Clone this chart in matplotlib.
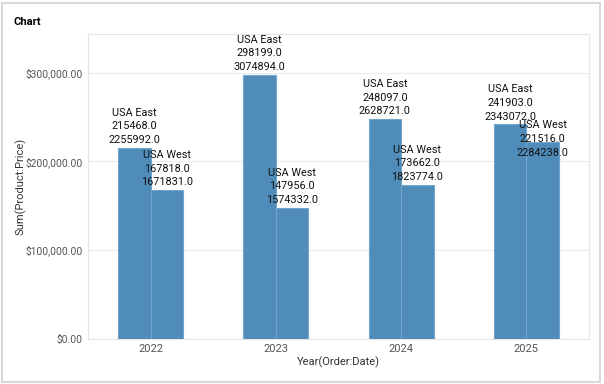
import matplotlib
matplotlib.use("Agg")
import matplotlib.pyplot as plt
import numpy as np
from matplotlib.patches import Rectangle
from matplotlib.ticker import FuncFormatter

plt.rcParams["font.family"] = ["Roboto", "DejaVu Sans"]

years = ["2022", "2023", "2024", "2025"]
series = ["USA East", "USA West"]
east_sum = [215468.0, 298199.0, 248097.0, 241903.0]
west_sum = [167818.0, 147956.0, 173662.0, 221516.0]
east_extra = [2255992.0, 3074894.0, 2628721.0, 2343072.0]
west_extra = [1671831.0, 1574332.0, 1823774.0, 2284238.0]

W, H = 604, 384
fig = plt.figure(figsize=(W / 100, H / 100), dpi=100)
fig.patch.set_facecolor("white")
fig.add_artist(Rectangle((2 / W, 2 / H), 598 / W, 379 / H, transform=fig.transFigure,
                         fill=False, edgecolor="#d9d9d9", linewidth=1.5))
fig.text(14 / W, 1 - 22 / H, "Chart", fontsize=8, fontweight="bold", va="center", ha="left")

ax = fig.add_axes([88 / W, 1 - 338.5 / H, 501 / W, 304.5 / H])
x = np.arange(len(years))
bw = 0.26
color = "#4f8cb9"
edge = "#74a6cc"
ax.bar(x - bw / 2, east_sum, width=bw, color=color, edgecolor=edge, linewidth=0.8, zorder=3)
ax.bar(x + bw / 2, west_sum, width=bw, color=color, edgecolor=edge, linewidth=0.8, zorder=3)

fs = 7.8
for i in range(len(years)):
    ax.annotate(f"{series[0]}\n{east_sum[i]:.1f}\n{east_extra[i]:.1f}", (x[i] - bw / 2, east_sum[i]),
                xytext=(0, 2), textcoords="offset points", ha="center", va="bottom",
                fontsize=fs, linespacing=1.45, color="#111111", zorder=4)
    # west label is pushed down when it would collide with the east label
    dy = 2 if west_sum[i] < east_sum[i] * 0.85 else -11
    ax.annotate(f"{series[1]}\n{west_sum[i]:.1f}\n{west_extra[i]:.1f}", (x[i] + bw / 2, west_sum[i]),
                xytext=(0, dy), textcoords="offset points", ha="center", va="bottom",
                fontsize=fs, linespacing=1.45, color="#111111", zorder=4)

ax.set_xlim(-0.5, len(years) - 0.5)
ax.set_ylim(0, 344000)
ax.set_xticks(x)
ax.set_xticklabels(years)
ax.set_yticks([0, 100000, 200000, 300000])
ax.yaxis.set_major_formatter(FuncFormatter(lambda v, p: f"${v:,.2f}"))
ax.tick_params(axis="both", length=0, labelsize=8, labelcolor="#555555", pad=4)
ax.tick_params(axis="y", labelsize=7.4)
ax.grid(axis="y", color="#ebebeb", linewidth=0.8, zorder=0)
for s in ax.spines.values():
    s.set_color("#e6e6e6")
    s.set_linewidth(0.8)
ax.set_ylabel("Sum(Product:Price)", fontsize=8, color="#333333")
ax.set_xlabel("Year(Order:Date)", fontsize=8, color="#333333")
ax.yaxis.set_label_coords((27 - 88) / 501, 0.5)
ax.xaxis.set_label_coords(0.5, (338.5 - 357) / 304.5)

fig.savefig("out.png", dpi=100, facecolor="white")
